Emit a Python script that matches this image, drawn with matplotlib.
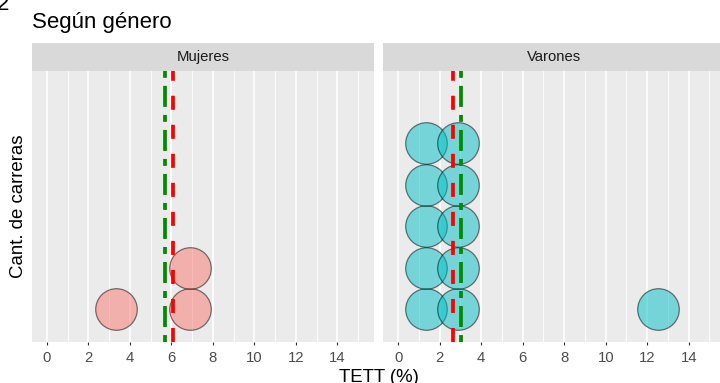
import numpy as np
import matplotlib
matplotlib.use('Agg')
import matplotlib.pyplot as plt

plt.rcParams['font.family'] = ['Liberation Sans', 'DejaVu Sans']
plt.rcParams['lines.scale_dashes'] = False

# Data (TETT %)
panels = ['Mujeres', 'Varones']
mujeres_tett = [3.35, 6.9, 6.9]
varones_tett = [1.33, 1.33, 1.33, 1.33, 1.33, 2.87, 2.87, 2.87, 2.87, 2.87, 12.5]
green_line = [5.71, 3.01]   # dotdash line (promedio)
red_line = [6.07, 2.62]     # dashed line
fill_colors = ['#F8766D', '#00BFC4']
x_ticks = [0, 2, 4, 6, 8, 10, 12, 14]

W, H = 720, 383
fig = plt.figure(figsize=(W / 100, H / 100), dpi=100)

panel_left = [32, 383.3]
panel_w = 341.7
panel_top, panel_bottom = 71, 342
strip_top = 42.7

for i, (name, vals) in enumerate(zip(panels, [mujeres_tett, varones_tett])):
    x0 = panel_left[i]
    ax = fig.add_axes([x0 / W, (H - panel_bottom) / H, panel_w / W, (panel_bottom - panel_top) / H])
    ax.set_facecolor('#EBEBEB')
    ax.set_xlim(-0.72, 15.75)
    ax.set_ylim(-0.286, 6.23)

    # grid
    for v in np.arange(1, 16, 2):
        ax.axvline(v, color='white', lw=0.6, zorder=0)
    for v in x_ticks:
        ax.axvline(v, color='white', lw=1.2, zorder=0)

    # stacked dots
    xs, ys = [], []
    counts = {}
    for v in vals:
        k = counts.get(v, 0)
        xs.append(v)
        ys.append(0.5 + k)
        counts[v] = k + 1
    ax.scatter(xs, ys, s=897, c=fill_colors[i], edgecolors='black', linewidths=0.9,
               alpha=0.5, zorder=3)

    ax.axvline(green_line[i], color='#008B00', lw=2.7, dashes=(5, 5.8, 15.1, 5.8), zorder=4)
    ax.axvline(red_line[i], color='#FF0000', lw=2.7, dashes=(10.1, 10.8), zorder=4)

    ax.set_xticks(x_ticks)
    ax.set_yticks([])
    ax.tick_params(axis='x', length=2.3, width=0.8, color='#333333', labelcolor='#4D4D4D',
                   labelsize=10.7, pad=4.2)
    for s in ax.spines.values():
        s.set_visible(False)

    # strip
    sax = fig.add_axes([x0 / W, (H - panel_top) / H, panel_w / W, (panel_top - strip_top) / H])
    sax.set_facecolor('#D9D9D9')
    sax.set_xticks([])
    sax.set_yticks([])
    for s in sax.spines.values():
        s.set_visible(False)
    sax.text(0.5, 0.5, name, transform=sax.transAxes, ha='center', va='center',
             fontsize=10.7, color='#1A1A1A')

fig.text(-3 / W, 1 - 10 / H, '2', fontsize=16, ha='left', va='baseline')
fig.text(32 / W, 1 - 28 / H, 'Según género', fontsize=16, ha='left', va='baseline')
fig.text(19 / W, 1 - 206.5 / H, 'Cant. de carreras', fontsize=13.4, rotation=90,
         ha='center', va='center')
fig.text(378.5 / W, 1 - 382 / H, 'TETT (%)', fontsize=13.4, ha='center', va='baseline')

fig.savefig('out.png', dpi=100)
